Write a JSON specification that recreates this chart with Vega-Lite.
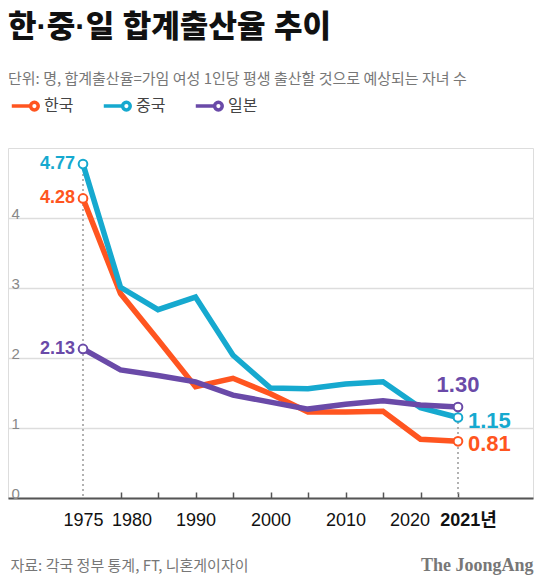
{
  "$schema": "https://vega.github.io/schema/vega-lite/v6.json",
  "width": 525,
  "height": 350,
  "autosize": "none",
  "padding": {"left": 8, "top": 148, "right": 8, "bottom": 85},
  "background": "white",
  "title": {
    "text": "한·중·일 합계출산율 추이",
    "subtitle": "단위: 명, 합계출산율=가임 여성 1인당 평생 출산할 것으로 예상되는 자녀 수",
    "anchor": "start",
    "frame": "group",
    "dx": 0,
    "offset": 3,
    "font": "Liberation Sans, Noto Sans CJK KR",
    "fontSize": 31,
    "fontWeight": 900,
    "color": "#111111",
    "subtitleFont": "Noto Sans CJK KR",
    "subtitleFontSize": 15,
    "subtitleColor": "#777777",
    "subtitlePadding": 28
  },
  "data": {
    "values": [
      {"year": "1975", "country": "한국", "value": 4.28},
      {"year": "1980", "country": "한국", "value": 2.92},
      {"year": "1985", "country": "한국", "value": 2.26},
      {"year": "1990", "country": "한국", "value": 1.59},
      {"year": "1995", "country": "한국", "value": 1.71},
      {"year": "2000", "country": "한국", "value": 1.49},
      {"year": "2005", "country": "한국", "value": 1.23},
      {"year": "2010", "country": "한국", "value": 1.23},
      {"year": "2015", "country": "한국", "value": 1.24},
      {"year": "2020", "country": "한국", "value": 0.84},
      {"year": "2021", "country": "한국", "value": 0.81},
      {"year": "1975", "country": "중국", "value": 4.77},
      {"year": "1980", "country": "중국", "value": 3.01},
      {"year": "1985", "country": "중국", "value": 2.69},
      {"year": "1990", "country": "중국", "value": 2.87},
      {"year": "1995", "country": "중국", "value": 2.04},
      {"year": "2000", "country": "중국", "value": 1.57},
      {"year": "2005", "country": "중국", "value": 1.56},
      {"year": "2010", "country": "중국", "value": 1.63},
      {"year": "2015", "country": "중국", "value": 1.66},
      {"year": "2020", "country": "중국", "value": 1.29},
      {"year": "2021", "country": "중국", "value": 1.15},
      {"year": "1975", "country": "일본", "value": 2.13},
      {"year": "1980", "country": "일본", "value": 1.83},
      {"year": "1985", "country": "일본", "value": 1.75},
      {"year": "1990", "country": "일본", "value": 1.66},
      {"year": "1995", "country": "일본", "value": 1.47},
      {"year": "2000", "country": "일본", "value": 1.37},
      {"year": "2005", "country": "일본", "value": 1.27},
      {"year": "2010", "country": "일본", "value": 1.34},
      {"year": "2015", "country": "일본", "value": 1.39},
      {"year": "2020", "country": "일본", "value": 1.33},
      {"year": "2021", "country": "일본", "value": 1.30}
    ]
  },
  "resolve": {"scale": {"color": "independent"}, "legend": {"color": "independent"}},
  "encoding": {
    "x": {
      "field": "year",
      "type": "ordinal",
      "scale": {
        "type": "point",
        "padding": 0,
        "domain": ["1965", "1970", "1975", "1980", "1985", "1990", "1995", "2000", "2005", "2010", "2015", "2020", "2021", "2026", "2031"]
      },
      "axis": {
        "values": ["1975", "1980", "1985", "1990", "1995", "2000", "2005", "2010", "2015", "2020", "2021"],
        "title": "자료: 각국 정부 통계, FT, 니혼게이자이",
        "titleFont": "Noto Sans CJK KR",
        "titleFontSize": 15,
        "titleFontWeight": "normal",
        "titleColor": "#777777",
        "titleAnchor": "start",
        "titleAlign": "left",
        "titleBaseline": "middle",
        "titleX": 2,
        "titleY": 67,
        "labelAngle": 0,
        "labelExpr": "datum.value == '2021' ? '2021년' : (indexof(['1975','1980','1990','2000','2010','2020'], datum.value) >= 0 ? datum.value : '')",
        "labelFont": "Liberation Sans, Noto Sans CJK KR",
        "labelFontSize": 18,
        "labelFontWeight": {"expr": "datum.value == '2021' ? 'bold' : 'normal'"},
        "labelOffset": {"expr": "datum.value == '1980' ? 11 : (datum.value == '2020' ? -11 : (datum.value == '2021' ? 10 : 0))"},
        "labelColor": "#111111",
        "labelPadding": 19,
        "labelBaseline": "top",
        "labelOverlap": false,
        "labelBound": false,
        "tickSize": -6,
        "tickColor": "#555555",
        "tickWidth": 1.5,
        "tickOpacity": {"expr": "datum.value == '1975' ? 0 : 1"},
        "domainColor": "#555555",
        "domainWidth": 2,
        "grid": false
      }
    },
    "y": {
      "field": "value",
      "type": "quantitative",
      "scale": {"domain": [0, 5], "nice": false},
      "axis": {
        "title": "The JoongAng",
        "titleFont": "Liberation Serif",
        "titleFontSize": 18,
        "titleFontWeight": "bold",
        "titleColor": "#777777",
        "titleAngle": 0,
        "titleAlign": "right",
        "titleBaseline": "middle",
        "titleX": 525,
        "titleY": 417,
        "values": [0, 1, 2, 3, 4],
        "ticks": false,
        "domain": false,
        "grid": true,
        "gridColor": "#dddddd",
        "gridWidth": 1.5,
        "labelAlign": "left",
        "labelBaseline": "alphabetic",
        "labelPadding": -3,
        "labelDy": -3,
        "labelFont": "Liberation Sans",
        "labelFontSize": 15,
        "labelColor": "#888888"
      }
    }
  },
  "layer": [
    {
      "transform": [{"filter": "datum.year == '1975' || datum.year == '2021'"}],
      "mark": {"type": "rule", "color": "#999999", "strokeDash": [2, 3], "strokeWidth": 1.5},
      "encoding": {
        "y": {"aggregate": "max", "field": "value", "type": "quantitative"},
        "y2": {"datum": 0}
      }
    },
    {
      "mark": {"type": "line", "strokeWidth": 5.5, "strokeJoin": "miter", "strokeCap": "butt"},
      "encoding": {
        "color": {
          "field": "country",
          "type": "nominal",
          "scale": {"domain": ["한국", "중국", "일본"], "range": ["#FF5520", "#16A9CF", "#6A4AA8"]},
          "legend": {
            "title": null,
            "orient": "none",
            "legendX": 2,
            "legendY": -57,
            "direction": "horizontal",
            "symbolType": "M -1 0 L 0.42 0 M 0.42 0 A 0.29 0.29 0 1 0 1 0 A 0.29 0.29 0 1 0 0.42 0 Z",
            "symbolSize": 700,
            "symbolStrokeWidth": 3.5,
            "symbolFillColor": "white",
            "labelFont": "Noto Sans CJK KR",
            "labelFontSize": 16,
            "labelColor": "#444444",
            "labelOffset": 4,
            "columnPadding": 22
          }
        }
      }
    },
    {
      "transform": [{"filter": "datum.year == '1975' || datum.year == '2021'"}],
      "mark": {"type": "point", "shape": "circle", "size": 75, "filled": true, "fill": "white", "strokeWidth": 2, "opacity": 1},
      "encoding": {
        "stroke": {
          "field": "country",
          "type": "nominal",
          "scale": {"domain": ["한국", "중국", "일본"], "range": ["#FF5520", "#16A9CF", "#6A4AA8"]},
          "legend": null
        }
      }
    },
    {
      "transform": [{"filter": "datum.year == '1975'"}],
      "mark": {"type": "text", "align": "right", "baseline": "middle", "dx": -8, "font": "Liberation Sans", "fontSize": 18, "fontWeight": "bold"},
      "encoding": {
        "text": {"field": "value", "type": "quantitative", "format": ".2f"},
        "color": {"field": "country", "type": "nominal", "scale": {"domain": ["한국", "중국", "일본"], "range": ["#FF5520", "#16A9CF", "#6A4AA8"]}, "legend": null}
      }
    },
    {
      "transform": [{"filter": "datum.year == '2021' && datum.country == '일본'"}],
      "mark": {"type": "text", "align": "center", "baseline": "middle", "dy": -22, "font": "Liberation Sans", "fontSize": 22, "fontWeight": "bold"},
      "encoding": {
        "text": {"field": "value", "type": "quantitative", "format": ".2f"},
        "color": {"field": "country", "type": "nominal", "scale": {"domain": ["한국", "중국", "일본"], "range": ["#FF5520", "#16A9CF", "#6A4AA8"]}, "legend": null}
      }
    },
    {
      "transform": [{"filter": "datum.year == '2021' && datum.country != '일본'"}],
      "mark": {"type": "text", "align": "left", "baseline": "middle", "dx": 10, "dy": 3, "font": "Liberation Sans", "fontSize": 22, "fontWeight": "bold"},
      "encoding": {
        "text": {"field": "value", "type": "quantitative", "format": ".2f"},
        "color": {"field": "country", "type": "nominal", "scale": {"domain": ["한국", "중국", "일본"], "range": ["#FF5520", "#16A9CF", "#6A4AA8"]}, "legend": null}
      }
    }
  ]
}
